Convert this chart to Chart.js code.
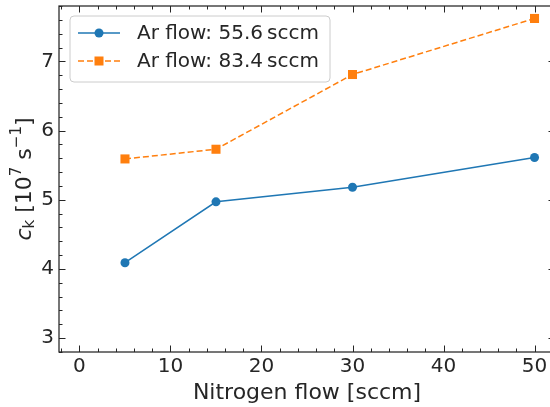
<!DOCTYPE html>
<html>
<head>
<meta charset="utf-8">
<script src="https://cdn.jsdelivr.net/npm/chart.js@4/dist/chart.umd.min.js"></script>
<style>
  html, body { margin: 0; padding: 0; background: #fff; overflow: hidden; }
  #wrap { width: 556px; height: 407px; }
</style>
</head>
<body>
<!-- canvas is a bit wider than the window: the right spine falls just outside, like the reference crop -->
<div id="wrap"><canvas id="chart" width="556" height="407"></canvas></div>
<script>
// Nitrogen flow [sccm]
const nitrogenFlow = [5, 15, 30, 50];
// c_k values [10^7 s^-1]
const ckAr556 = [4.09, 4.97, 5.18, 5.61];
const ckAr834 = [5.59, 5.73, 6.81, 7.62];
const seriesLabels = ['Ar flow: 55.6\u2009sccm', 'Ar flow: 83.4\u2009sccm'];
const xTicks = [0, 10, 20, 30, 40, 50];
const yTicks = [3, 4, 5, 6, 7];

const ink = '#262626';
const fontFam = '"DejaVu Sans", sans-serif';

// frame, inward ticks, y title and legend box (matplotlib look)
const mplExtras = {
  id: 'mplExtras',
  afterDraw(chart) {
    const { ctx, chartArea: a, scales } = chart;
    const xs = scales.x, ys = scales.y;
    ctx.save();
    ctx.strokeStyle = ink;
    ctx.lineWidth = 1.25;
    ctx.strokeRect(a.left, a.top, a.right - a.left, a.bottom - a.top);

    ctx.lineWidth = 1;
    const tick = (x1, y1, x2, y2) => {
      ctx.beginPath(); ctx.moveTo(x1, y1); ctx.lineTo(x2, y2); ctx.stroke();
    };
    for (let v = -2; v <= 52; v += 2) {
      const px = Math.round(xs.getPixelForValue(v)) + 0.5;
      const len = v % 10 === 0 ? 6.5 : 3.5;
      tick(px, a.bottom, px, a.bottom - len);
      tick(px, a.top, px, a.top + len);
    }
    for (let i = 14; i <= 39; i++) {
      const v = i / 5;
      const py = Math.round(ys.getPixelForValue(v)) + 0.5;
      const len = i % 5 === 0 ? 6.5 : 3.5;
      tick(a.left, py, a.left + len, py);
      tick(a.right, py, a.right - len, py);
    }

    // y axis title: c_k [10^7 s^-1]
    const big = 22, small = 15;
    const parts = [
      { t: 'c', f: 'italic ' + big + 'px ' + fontFam, dy: 0 },
      { t: 'k', f: small + 'px ' + fontFam, dy: 5 },
      { t: ' [10', f: big + 'px ' + fontFam, dy: 0 },
      { t: '7', f: small + 'px ' + fontFam, dy: -8 },
      { t: ' s', f: big + 'px ' + fontFam, dy: 0 },
      { t: '\u22121', f: small + 'px ' + fontFam, dy: -8 },
      { t: ']', f: big + 'px ' + fontFam, dy: 0 }
    ];
    let total = 0;
    parts.forEach(p => { ctx.font = p.f; p.w = ctx.measureText(p.t).width; total += p.w; });
    ctx.translate(25, (a.top + a.bottom) / 2);
    ctx.rotate(-Math.PI / 2);
    ctx.fillStyle = ink;
    ctx.textBaseline = 'middle';
    let cx = -total / 2;
    parts.forEach(p => { ctx.font = p.f; ctx.fillText(p.t, cx, p.dy); cx += p.w; });
    ctx.setTransform(1, 0, 0, 1, 0, 0);

    // legend
    const lx = 70, ly = 16, lw = 260, lh = 66;
    ctx.beginPath();
    ctx.roundRect(lx, ly, lw, lh, 4);
    ctx.fillStyle = 'rgba(255,255,255,0.8)';
    ctx.fill();
    ctx.strokeStyle = '#cccccc';
    ctx.lineWidth = 1;
    ctx.stroke();
    chart.data.datasets.forEach((ds, i) => {
      const y = 33 + i * 28;
      ctx.strokeStyle = ds.borderColor;
      ctx.lineWidth = 1.5;
      ctx.setLineDash(ds.borderDash || []);
      ctx.beginPath(); ctx.moveTo(78, y); ctx.lineTo(120, y); ctx.stroke();
      ctx.setLineDash([]);
      ctx.fillStyle = ds.borderColor;
      if (ds.pointStyle === 'rect') {
        ctx.fillRect(99 - 4.5, y - 4.5, 9, 9);
      } else {
        ctx.beginPath(); ctx.arc(99, y, 4.5, 0, Math.PI * 2); ctx.fill();
      }
      ctx.fillStyle = ink;
      ctx.font = '20px ' + fontFam;
      ctx.textBaseline = 'middle';
      ctx.fillText(ds.label, 137, y + 1);
    });
    ctx.restore();
  }
};

new Chart(document.getElementById('chart'), {
  type: 'line',
  data: {
    datasets: [
      {
        label: seriesLabels[0],
        data: nitrogenFlow.map((x, i) => ({ x: x, y: ckAr556[i] })),
        borderColor: '#1f77b4',
        backgroundColor: '#1f77b4',
        borderWidth: 1.5,
        pointStyle: 'circle',
        pointRadius: 4.5,
        pointBorderWidth: 0,
        tension: 0
      },
      {
        label: seriesLabels[1],
        data: nitrogenFlow.map((x, i) => ({ x: x, y: ckAr834[i] })),
        borderColor: '#ff7f0e',
        backgroundColor: '#ff7f0e',
        borderWidth: 1.5,
        borderDash: [6, 3],
        pointStyle: 'rect',
        pointRadius: 6.4,
        pointBorderWidth: 0,
        tension: 0
      }
    ]
  },
  options: {
    responsive: false,
    animation: false,
    layout: { autoPadding: false, padding: { top: 6, right: 1, left: 0, bottom: 1 } },
    plugins: {
      legend: { display: false },
      tooltip: { enabled: false }
    },
    scales: {
      x: {
        type: 'linear',
        min: -2.25,
        max: 52.25,
        afterBuildTicks: s => { s.ticks = xTicks.map(v => ({ value: v })); },
        afterFit: s => { s.height = 54; s.paddingLeft = 0; s.paddingRight = 0; },
        grid: { display: false, drawTicks: false },
        border: { display: false },
        ticks: { color: ink, font: { family: fontFam, size: 20 }, padding: 3, maxRotation: 0 },
        title: {
          display: true,
          text: 'Nitrogen flow [sccm]',
          color: ink,
          font: { family: fontFam, size: 22 },
          padding: { top: 0, bottom: 0 }
        }
      },
      y: {
        type: 'linear',
        min: 2.8,
        max: 7.8,
        afterBuildTicks: s => { s.ticks = yTicks.map(v => ({ value: v })); },
        afterFit: s => { s.width = 59; s.paddingTop = 0; s.paddingBottom = 0; },
        grid: { display: false, drawTicks: false },
        border: { display: false },
        ticks: { color: ink, font: { family: fontFam, size: 20 }, padding: 5 }
      }
    }
  },
  plugins: [mplExtras]
});
</script>
</body>
</html>
